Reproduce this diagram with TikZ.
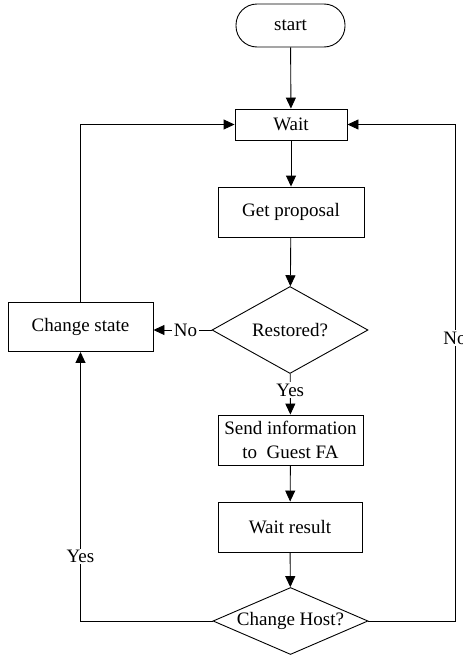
\documentclass[tikz,border=0pt]{standalone}
\usepackage{fontspec}
\setmainfont{Liberation Serif}
\usetikzlibrary{shapes.geometric,arrows.meta}
\tikzset{
  line/.style={line width=0.9pt},
  arr/.style={line, -{Triangle[length=11pt,width=10pt]}},
  box/.style={draw, line width=0.9pt, inner sep=0pt, align=center, font=\fontsize{19}{24}\selectfont},
  dec/.style={draw, diamond, line width=0.9pt, inner sep=0pt, font=\fontsize{19}{24}\selectfont},
  lbl/.style={fill=white, inner sep=1.5pt, font=\fontsize{19}{24}\selectfont},
}
\begin{document}
\begin{tikzpicture}[x=1pt,y=-1pt]
\useasboundingbox (0,0) rectangle (463,664);
\node[box, rounded corners=21pt, minimum width=109pt, minimum height=43pt] (start) at (290.5,25.5) {start};
\node[box, minimum width=112pt, minimum height=31pt] (wait) at (291,124.5) {Wait};
\node[box, minimum width=146pt, minimum height=50pt] (getp) at (291,212) {Get proposal};
\node[dec, minimum width=156pt, minimum height=87pt, aspect=1.79] (rest) at (290,330) {Restored?};
\node[box, minimum width=145pt, minimum height=49pt] (cs) at (80.5,327) {Change state};
\node[box, minimum width=145pt, minimum height=50pt] (send) at (290.5,440) {Send information\\to\ \ Guest FA};
\node[box, minimum width=144pt, minimum height=50pt] (waitr) at (290,527) {Wait result};
\node[dec, minimum width=155pt, minimum height=67pt, aspect=2.31] (chost) at (290.5,621) {Change Host?};
\coordinate (rtop) at (455,124.5);
\coordinate (rbot) at (455,621);
\coordinate (ltop) at (80.5,124.5);
\coordinate (lbot) at (80.5,621);

\draw[arr] (start) -- (wait);
\draw[arr] (wait) -- (getp);
\draw[arr] (getp) -- (rest);
\draw[arr] (rest.west) -- node[lbl, pos=0.45] {No} (rest.west -| cs.east);
\draw[arr] (rest) -- node[lbl, pos=0.4] {Yes} (send);
\draw[arr] (send) -- (waitr);
\draw[arr] (waitr) -- (chost);
\draw[arr] (cs.north) -- (ltop) -- (wait.west);
\draw[arr] (chost.east) -- (rbot) -- node[lbl, pos=0.57] {No} (rtop) -- (wait.east);
\draw[arr] (chost.west) -- (lbot) -- node[lbl, pos=0.24] {Yes} (cs.south);
\end{tikzpicture}
\end{document}
